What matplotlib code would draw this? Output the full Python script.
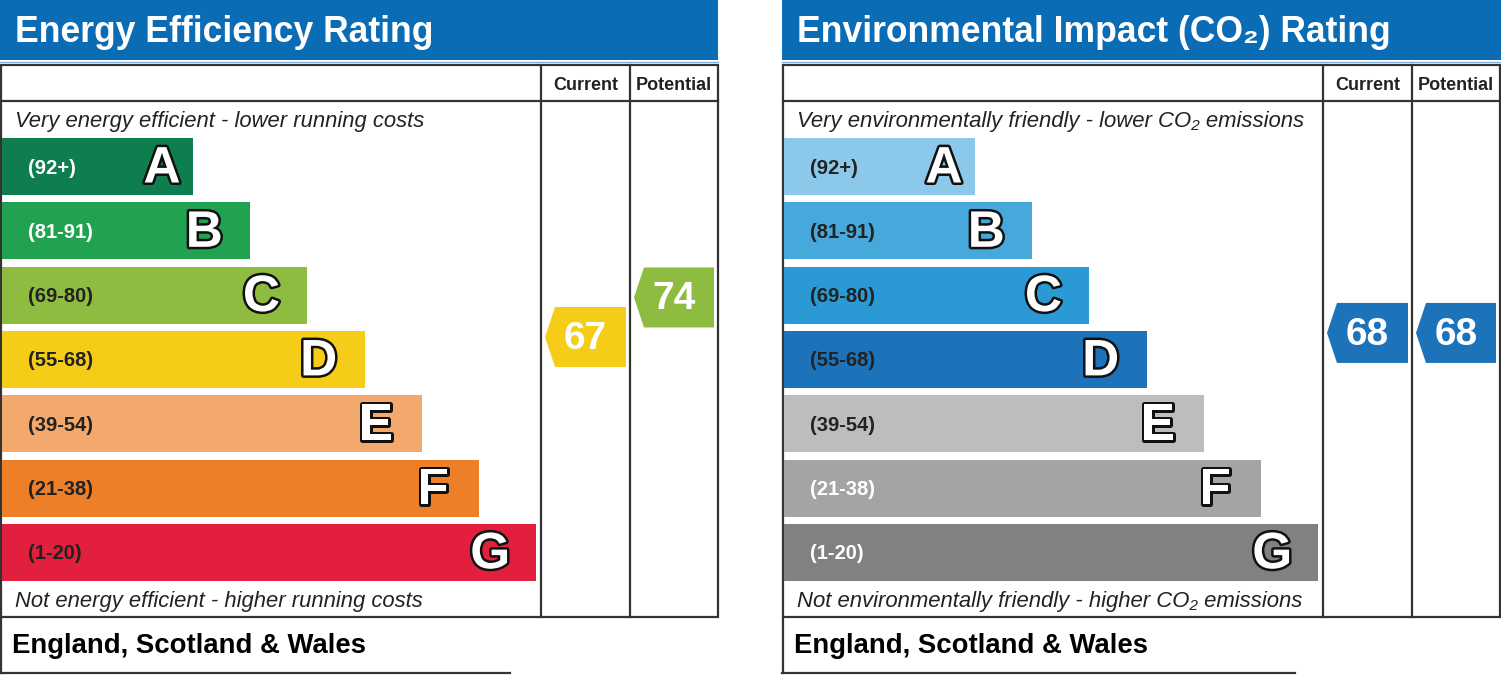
import matplotlib
matplotlib.use('Agg')
import matplotlib.pyplot as plt
from matplotlib.patches import Rectangle, Polygon
import matplotlib.patheffects as pe

plt.rcParams['font.family'] = ['Liberation Sans', 'DejaVu Sans']

# bands, shared by both charts
bands = ['A', 'B', 'C', 'D', 'E', 'F', 'G']
band_ranges = ['(92+)', '(81-91)', '(69-80)', '(55-68)', '(39-54)', '(21-38)', '(1-20)']
band_lo = [92, 81, 69, 55, 39, 21, 1]
band_hi = [100, 91, 80, 68, 54, 38, 20]

# energy efficiency
ee_colors = ['#0f7e4f', '#21a250', '#8dbc41', '#f5cd18', '#f2a96b', '#ec7f27', '#e2203d']
ee_label_colors = ['white', 'white', '#222222', '#222222', '#222222', '#222222', '#222222']
ee_current = 67
ee_potential = 74

# environmental impact
ei_colors = ['#8cc8e9', '#47a8dc', '#2b99d3', '#1c73b9', '#bdbdbd', '#a4a4a4', '#818181']
ei_label_colors = ['#222222', '#222222', '#222222', '#222222', '#222222', 'white', 'white']
ei_current = 68
ei_potential = 68

BLUE = '#0a6cb4'
LINE = '#333333'
BAR_TOP, BAR_STEP, BAR_H = 138, 64.3, 57


def band_index(v):
    for i in range(len(bands)):
        if band_lo[i] <= v <= band_hi[i]:
            return i
    return len(bands) - 1


def rating_y(v):
    i = band_index(v)
    top = BAR_TOP + i * BAR_STEP
    return top + (band_hi[i] - v + 0.5) / (band_hi[i] - band_lo[i] + 1) * BAR_H


def draw_arrow(ax, col_l, col_r, value, color):
    yc = rating_y(value)
    tip, body, right = col_l + 4, col_l + 14, col_r - 4
    pts = [(tip, yc), (body, yc - 30), (right, yc - 30), (right, yc + 30), (body, yc + 30)]
    ax.add_patch(Polygon(pts, closed=True, facecolor=color, edgecolor='none'))
    ax.text((tip + right) / 2, yc + 2, str(value), color='white', fontsize=28,
            fontweight='bold', ha='center', va='center')


def draw_panel(ax, x0, title_w, title, title_fs, top_txt, bot_txt, txt_fs, colors,
               label_colors, current, potential, foot_w):
    # title bar
    ax.add_patch(Rectangle((x0, 0), title_w, 60, facecolor=BLUE, edgecolor='none'))
    ax.plot([x0, x0 + title_w], [61.5, 61.5], color='#7fb0dc', lw=1)
    ax.text(x0 + 15, 33, title, color='white', fontsize=title_fs, fontweight='bold',
            ha='left', va='center')

    # table frame
    ax.add_patch(Rectangle((x0 + 1, 65), 717, 552, facecolor='none', edgecolor=LINE, lw=1.6))
    ax.plot([x0 + 1, x0 + 718], [101, 101], color=LINE, lw=1.6)
    c1, c2, c3 = x0 + 541, x0 + 630, x0 + 718
    for cx in (c1, c2):
        ax.plot([cx, cx], [65, 617], color=LINE, lw=1.6)
    ax.text((c1 + c2) / 2, 85, 'Current', fontsize=13, fontweight='bold',
            color='#222222', ha='center', va='center')
    ax.text((c2 + c3) / 2, 85, 'Potential', fontsize=13, fontweight='bold',
            color='#222222', ha='center', va='center')

    ax.text(x0 + 15, 121, top_txt, fontsize=txt_fs, style='italic', color='#222222',
            ha='left', va='center')
    ax.text(x0 + 15, 601, bot_txt, fontsize=txt_fs, style='italic', color='#222222',
            ha='left', va='center')

    # rating bars
    for i, b in enumerate(bands):
        top = BAR_TOP + i * BAR_STEP
        w = 191 + i * 57.2
        ax.add_patch(Rectangle((x0 + 2, top), w, BAR_H, facecolor=colors[i], edgecolor='none'))
        ax.text(x0 + 28, top + BAR_H / 2 + 1.5, band_ranges[i], fontsize=14.5, fontweight='bold',
                color=label_colors[i], ha='left', va='center')
        lx = x0 + 2 + w - 46 + (15 if i == 0 else 0)
        ax.text(lx, top + BAR_H / 2 + 2.5, b, fontsize=37, fontweight='bold', color='white',
                ha='center', va='center',
                path_effects=[pe.withStroke(linewidth=3.6, foreground='#111111')])

    # arrows
    draw_arrow(ax, c1, c2, current, colors[band_index(current)])
    draw_arrow(ax, c2, c3, potential, colors[band_index(potential)])

    # footer
    ax.plot([x0 + 1, x0 + 1], [617, 673], color=LINE, lw=1.6)
    ax.plot([x0, x0 + foot_w], [673, 673], color=LINE, lw=1.6)
    ax.text(x0 + 12, 646, 'England, Scotland & Wales', fontsize=19.8, fontweight='bold',
            color='black', ha='left', va='center')


fig = plt.figure(figsize=(15.01, 6.75), dpi=100)
ax = fig.add_axes([0, 0, 1, 1])
ax.set_xlim(0, 1501)
ax.set_ylim(675, 0)
ax.axis('off')

draw_panel(ax, 0, 718, 'Energy Efficiency Rating', 25.6,
           'Very energy efficient - lower running costs',
           'Not energy efficient - higher running costs', 15.8,
           ee_colors, ee_label_colors, ee_current, ee_potential, 510)
draw_panel(ax, 782, 719, 'Environmental Impact (CO\u2082) Rating', 25.6,
           'Very environmentally friendly - lower CO\u2082 emissions',
           'Not environmentally friendly - higher CO\u2082 emissions', 15.9,
           ei_colors, ei_label_colors, ei_current, ei_potential, 513)

fig.savefig('out.png', dpi=100, facecolor='white')
